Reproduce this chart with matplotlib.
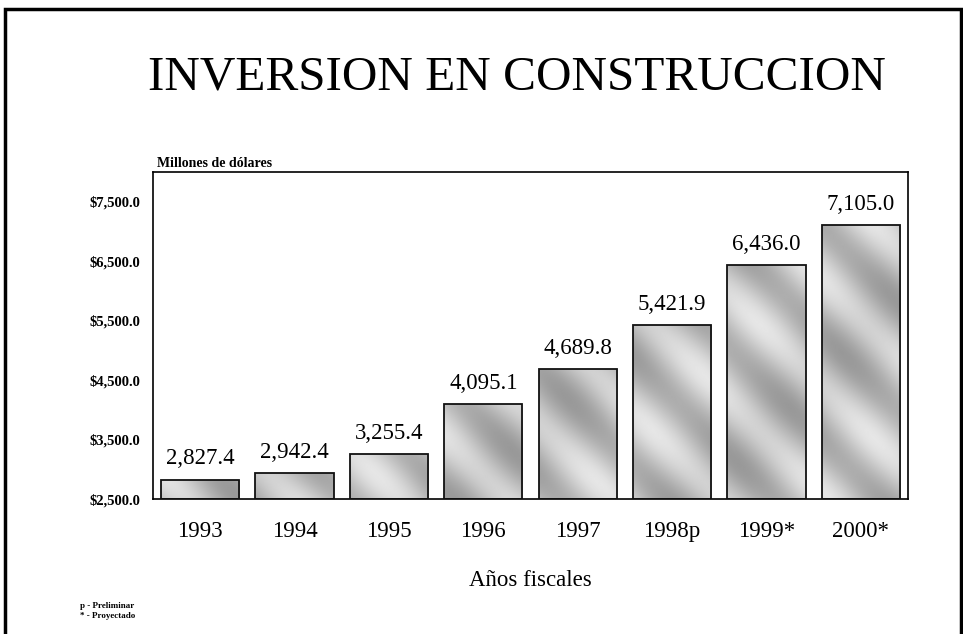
import matplotlib
matplotlib.use("Agg")
import matplotlib.pyplot as plt
import numpy as np
from matplotlib.patches import Rectangle

years = ["1993", "1994", "1995", "1996", "1997", "1998p", "1999*", "2000*"]
inversion = [2827.4, 2942.4, 3255.4, 4095.1, 4689.8, 5421.9, 6436.0, 7105.0]
y_ticks = [2500, 3500, 4500, 5500, 6500, 7500]

plt.rcParams['font.family'] = ['Liberation Serif', 'DejaVu Serif']

fig = plt.figure(figsize=(9.63, 6.34), dpi=100)
ax = fig.add_axes([153 / 963, 1 - 499 / 634, 755 / 963, 327 / 634])

x = np.arange(len(years))
bars = ax.bar(x, [v - 2500 for v in inversion], bottom=2500, width=0.83,
              color='#c4c4c4', edgecolor='#111111', linewidth=1.3, zorder=2)

# diagonal light/dark bands (top-left to bottom-right) like the scanned fill,
# built on a pixel grid the size of the axes so the angle stays true
rows, cols = np.mgrid[0:327, 0:755]
bands = 0.75 + 0.11 * np.sin((cols - rows) / 17.0) + 0.04 * np.sin((cols + rows) / 37.0)
for b in bars:
    im = ax.imshow(bands, cmap='gray', vmin=0, vmax=1, aspect='auto',
                   extent=(-0.5, len(years) - 0.5, 2500, 8000),
                   zorder=2, interpolation='bilinear')
    im.set_clip_path(b)
    b.set_facecolor('none')
    b.set_zorder(3)
ax.set_xlim(-0.5, len(years) - 0.5)
ax.set_ylim(2500, 8000)

for xi, v in zip(x, inversion):
    ax.text(xi, v + 170, f"{v:,.1f}", ha='center', va='bottom', fontsize=16.5)

ax.set_xticks(x)
ax.set_xticklabels(years, fontsize=16.5)
ax.set_yticks(y_ticks)
ax.set_yticklabels([f"${t:,.1f}" for t in y_ticks], fontsize=10.5, fontweight='bold')
ax.tick_params(length=0)
ax.tick_params(axis='y', pad=9)
ax.tick_params(axis='x', pad=16)
for s in ax.spines.values():
    s.set_linewidth(1.2)

ax.set_xlabel("Años fiscales", fontsize=16.5, labelpad=20)
ax.text(157 / 963, 1 - 164 / 634, "Millones de dólares", transform=fig.transFigure,
        ha='left', va='center', fontsize=10, fontweight='bold')

fig.text(517 / 963, 1 - 77 / 634, "INVERSION EN CONSTRUCCION",
         ha='center', va='center', fontsize=35.5)
fig.text(80 / 963, 1 - 606 / 634, "p - Preliminar", fontsize=6.5,
         fontweight='bold', va='center')
fig.text(80 / 963, 1 - 616 / 634, "* - Proyectado", fontsize=6.5,
         fontweight='bold', va='center')

# outer frame of the slide
fig.patches.append(Rectangle((5 / 963, -0.1), 956 / 963, 1.1 - 9 / 634,
                             transform=fig.transFigure, fill=False,
                             edgecolor='black', linewidth=2.5))

fig.savefig("out.png", dpi=100)
